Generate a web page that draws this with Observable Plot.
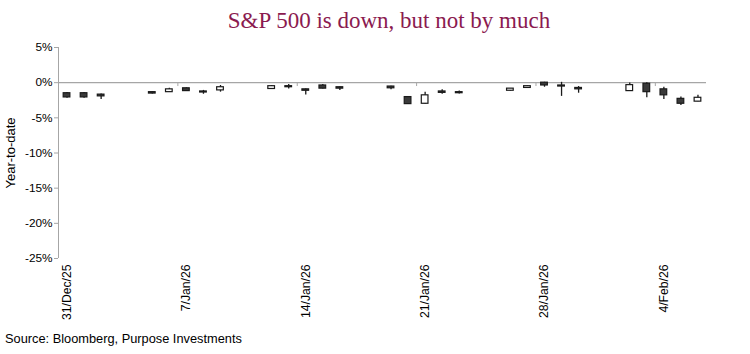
<!DOCTYPE html>
<html>
<head>
<meta charset="utf-8">
<script src="https://cdn.jsdelivr.net/npm/d3@7"></script>
<script src="https://cdn.jsdelivr.net/npm/@observablehq/plot@0.6"></script>
<style>
  html, body { margin: 0; padding: 0; background: #fff; }
  #wrap { position: relative; width: 750px; height: 354px; overflow: hidden; }
  #title { position: absolute; left: 0; top: 8px; width: 778px; text-align: center;
    font-family: "Liberation Serif", serif; font-size: 23px; color: #8b1a4f; }
  #caption { position: absolute; left: 5px; top: 331px; font-family: "Liberation Sans", Arial, sans-serif;
    font-size: 12.8px; color: #000; }
  #chart { position: absolute; left: 0; top: 0; }
</style>
</head>
<body>
<div id="wrap">
  <div id="chart"></div>
  <div id="title">S&amp;P 500 is down, but not by much</div>
  <div id="caption">Source: Bloomberg, Purpose Investments</div>
</div>
<script>
const dates = ["2025-12-31","2026-01-01","2026-01-02","2026-01-05","2026-01-06","2026-01-07","2026-01-08","2026-01-09",
  "2026-01-12","2026-01-13","2026-01-14","2026-01-15","2026-01-16","2026-01-19","2026-01-20","2026-01-21","2026-01-22","2026-01-23",
  "2026-01-26","2026-01-27","2026-01-28","2026-01-29","2026-01-30","2026-02-02","2026-02-03","2026-02-04","2026-02-05","2026-02-06"];
const open  = [-1.5,-1.5,-1.7,-1.35,-1.35,-0.8,-1.25,-1.1, -0.9,-0.5,-0.95,-0.4,-0.65, -0.55,-2.05,-3.0,-1.25,-1.35, -1.15,-0.75,0.0,-0.4,-0.75, -1.2,-0.15,-0.95,-2.3,-2.7];
const high  = [-1.4,-1.4,-1.6,-1.3,-0.8,-0.75,-1.1,-0.4, -0.4,-0.25,-0.9,-0.25,-0.6, -0.5,-2.0,-1.35,-1.0,-1.2, -1.1,-0.45,0.05,0.05,-0.55, -0.05,0.0,-0.65,-2.05,-1.8];
const low   = [-2.2,-2.2,-2.4,-1.6,-1.4,-1.25,-1.65,-1.35, -0.95,-0.9,-1.75,-0.9,-1.1, -1.0,-3.1,-3.05,-1.65,-1.6, -1.2,-0.8,-0.65,-1.95,-1.5, -1.2,-2.15,-2.4,-3.25,-2.7];
const close = [-2.1,-2.1,-1.95,-1.55,-0.95,-1.2,-1.4,-0.65, -0.5,-0.65,-1.15,-0.85,-0.85, -0.8,-3.05,-1.8,-1.45,-1.5, -0.85,-0.5,-0.4,-0.55,-0.95, -0.35,-1.35,-1.8,-3.0,-2.15];
const tickDates = ["2025-12-31","2026-01-07","2026-01-14","2026-01-21","2026-01-28","2026-02-04"];
const tickLabels = ["31/Dec/25","7/Jan/26","14/Jan/26","21/Jan/26","28/Jan/26","4/Feb/26"];
const yTicks = [5, 0, -5, -10, -15, -20, -25];
const xStart = "2025-12-31", xEnd = "2026-02-07";

const H = 3600e3;
const day = s => new Date(s + "T00:00:00Z");
const candles = dates.map((d, i) => {
  const t = day(d);
  return {
    mid: new Date(+t + 12 * H), x1: new Date(+t + 7.3 * H), x2: new Date(+t + 16.7 * H),
    open: open[i], high: high[i], low: low[i], close: close[i], up: close[i] > open[i]
  };
});
const ticks = tickDates.map((d, i) => ({t: day(d), mid: new Date(+day(d) + 12 * H), label: tickLabels[i]}));
const gray = "#a6a6a6";

const plot = Plot.plot({
  width: 750, height: 354,
  marginLeft: 58, marginRight: 44, marginTop: 47, marginBottom: 96,
  style: {fontFamily: "'Liberation Sans', Arial, sans-serif", fontSize: "11.5px", color: "#000", background: "transparent"},
  x: {type: "utc", domain: [day(xStart), day(xEnd)], axis: null},
  y: {domain: [-25, 5], axis: null},
  marks: [
    Plot.ruleX([day(xStart)], {y1: -25, y2: 5, stroke: gray, strokeWidth: 1}),
    Plot.ruleY([0], {stroke: gray, strokeWidth: 1.2}),
    Plot.axisY({ticks: yTicks, tickFormat: d => d + "%", tickSize: 4, tickPadding: 2, stroke: gray,
      label: null, fontSize: 11.8}),
    Plot.text(["Year-to-date"], {frameAnchor: "left", textAnchor: "middle", dx: -48, rotate: -90, fontSize: 13}),
    Plot.ruleX(ticks, {x: "t", y1: 0, y2: -0.55, stroke: gray}),
    Plot.axisX({ticks: ticks.map(d => d.mid), tickFormat: (d, i) => tickLabels[i], tickRotate: -90,
      tickSize: 0, tickPadding: 6, anchor: "bottom", label: null, fontSize: 12.2}),
    Plot.ruleX(candles, {x: "mid", y1: "low", y2: "high", stroke: "#1a1a1a", strokeWidth: 1.3}),
    Plot.rect(candles, {x1: "x1", x2: "x2", y1: "open", y2: "close",
      fill: d => d.up ? "#ffffff" : "#3a3a3a", stroke: "#1a1a1a", strokeWidth: 1.2})
  ]
});
document.getElementById("chart").appendChild(plot);
</script>
</body>
</html>
